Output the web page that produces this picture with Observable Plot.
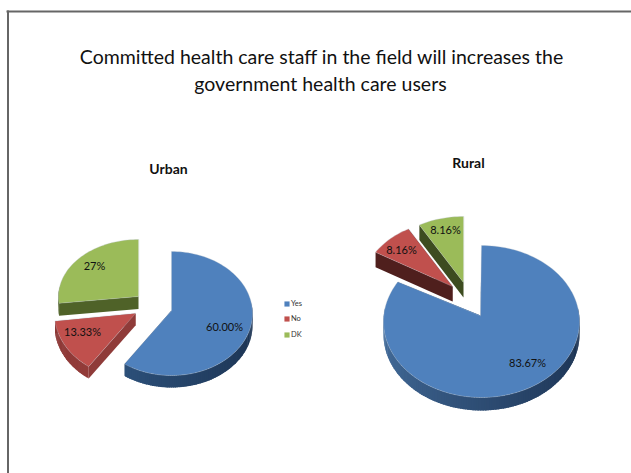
<!DOCTYPE html>
<html>
<head>
<meta charset="utf-8">
<script src="https://cdn.jsdelivr.net/npm/d3@7"></script>
<script src="https://cdn.jsdelivr.net/npm/@observablehq/plot@0.6"></script>
<style>
  html, body { margin: 0; padding: 0; background: #fff; }
  svg { display: block; }
</style>
</head>
<body>
<div id="chart"></div>
<script>
// Survey answers, in percent
const categories = ["Yes", "No", "DK"];
const urbanValues = [60.0, 13.33, 27];
const ruralValues = [83.67, 8.16, 8.16];
const urbanLabels = ["60.00%", "13.33%", "27%"];
const ruralLabels = ["83.67%", "8.16%", "8.16%"];
const titleLines = [
  "Committed health care staff in the field will increases the",
  "government health care users"
];
const categoryColors = ["#4f81bd", "#c0504d", "#9bbb59"];

// Where each exploded wedge sits on the page, and its pseudo-3D shading.
// ax/ay: wedge tip, cx/cy: ellipse centre, a/b: ellipse radii, depth: extrusion.
const urbanLayout = [
  {ax: 171, ay: 310, cx: 171, cy: 313, a: 81, b: 62, depth: 12, cut: "#24436a", wall: ["#1c3352", "#35608f"], lx: 224, ly: 327},
  {ax: 135, ay: 313, cx: 135, cy: 313, a: 81, b: 65, depth: 12, cut: "#8f3b39", wall: ["#a34341", "#8a3735"], lx: 82, ly: 332},
  {ax: 138, ay: 296, cx: 138, cy: 296, a: 80, b: 57, depth: 12.5, cut: "#4f6228", wall: ["#4f6228", "#4f6228"], lx: 94, ly: 266}
];
const ruralLayout = [
  {ax: 480, ay: 315, cx: 481, cy: 321, a: 98, b: 76, depth: 13, cut: "#24436a", wall: ["#1b3252", "#46709f"], lx: 527, ly: 363},
  {ax: 452, ay: 286, cx: 452, cy: 286, a: 90, b: 66, depth: 15, cut: "#4f1f1d", wall: ["#4f1f1d", "#4f1f1d"], lx: 401, ly: 250},
  {ax: 463, ay: 282, cx: 463, cy: 282, a: 90, b: 66, depth: 15, cut: "#3d4c20", wall: ["#3d4c20", "#3d4c20"], lx: 445, ly: 230}
];
const urbanOrder = [0, 2, 1];
const ruralOrder = [0, 1, 2];

const font = "Lato, 'Liberation Sans', sans-serif";
const rad = Math.PI / 180;

// Turn one pie's values into wedges with start and end angles (clockwise from north).
function wedges(values, labels, layout) {
  const total = d3.sum(values);
  let angle = 0;
  return values.map((value, i) => {
    const start = angle;
    angle += (value / total) * 360;
    return {category: categories[i], value, label: labels[i], start, end: angle, ...layout[i]};
  });
}

function rim(w, deg) {
  return {x: w.cx + w.a * Math.sin(deg * rad), y: w.cy - w.b * Math.cos(deg * rad)};
}

function arcAngles(start, end, step) {
  const n = Math.max(1, Math.ceil((end - start) / step));
  return d3.range(n + 1).map(i => start + ((end - start) * i) / n);
}

// Top face as one closed outline.
function topFace(w) {
  const pts = [{x: w.ax, y: w.ay}, ...arcAngles(w.start, w.end, 2).map(t => rim(w, t))];
  return pts.map(p => ({...p, category: w.category}));
}

// Side walls: the two cut faces and the outer rim, extruded downward.
// Rim strips overlap the next one so the shading runs without seams.
function sideFaces(w) {
  const rows = [];
  let id = 0;
  const push = (pts, shade) => {
    id++;
    for (const p of pts) rows.push({...p, id, shade});
  };
  for (const t of [w.start, w.end]) {
    const e = rim(w, t);
    push([
      {x: w.ax, y: w.ay},
      e,
      {x: e.x, y: e.y + w.depth},
      {x: w.ax, y: w.ay + w.depth}
    ], w.cut);
  }
  const from = Math.max(w.start, 80);
  const to = Math.min(w.end, 280);
  if (to > from) {
    const mix = d3.interpolateRgb(w.wall[0], w.wall[1]);
    const ticks = arcAngles(from, to, 1.5);
    for (let i = 0; i < ticks.length - 1; i++) {
      const p = rim(w, ticks[i]);
      const q = rim(w, Math.min(ticks[i + 1] + 1, to));
      const t = Math.max(0, (ticks[i] - 90) / 180);
      push([
        p, q,
        {x: q.x, y: q.y + w.depth},
        {x: p.x, y: p.y + w.depth}
      ], mix(Math.pow(t, 1.2)));
    }
  }
  return rows;
}

function pieMarks(values, labels, layout, order) {
  const all = wedges(values, labels, layout);
  const marks = [];
  for (const i of order) {
    const w = all[i];
    marks.push(Plot.line(sideFaces(w), {
      x: "x", y: "y", z: "id",
      fill: {value: "shade", scale: null},
      stroke: "none",
      curve: "linear-closed"
    }));
    marks.push(Plot.line(topFace(w), {
      x: "x", y: "y",
      fill: "category",
      stroke: "#b8c0c8",
      strokeOpacity: 0.4,
      strokeWidth: 0.8,
      curve: "linear-closed"
    }));
  }
  marks.push(Plot.text(all, {
    x: "lx", y: "ly",
    text: "label",
    fill: "#111",
    fontSize: 11,
    fontFamily: font
  }));
  return marks;
}

const legendRows = categories.map((category, i) => ({category, y: [303.5, 318.5, 334.5][i]}));

const chart = Plot.plot({
  width: 631,
  height: 473,
  margin: 0,
  x: {domain: [0, 631], range: [0, 631], axis: null},
  y: {domain: [0, 473], range: [0, 473], axis: null},
  color: {domain: categories, range: categoryColors},
  style: {background: "#fff", fontFamily: font},
  marks: [
    // Slide frame: left and top edges only
    Plot.ruleX([7.5], {y1: 10.5, y2: 473, stroke: "#666", strokeWidth: 2}),
    Plot.ruleY([11], {x1: 6.5, x2: 631, stroke: "#666", strokeWidth: 2}),
    Plot.text(titleLines, {
      x: (d, i) => [321, 320][i],
      y: (d, i) => [57, 84][i],
      text: d => d,
      fontSize: 19.5,
      fontFamily: font,
      fill: "#111"
    }),
    Plot.text(["Urban", "Rural"], {
      x: (d, i) => [168, 468][i],
      y: (d, i) => [169, 163][i],
      text: d => d,
      fontSize: 14,
      fontWeight: "bold",
      fontFamily: font,
      fill: "#111"
    }),
    ...pieMarks(urbanValues, urbanLabels, urbanLayout, urbanOrder),
    ...pieMarks(ruralValues, ruralLabels, ruralLayout, ruralOrder),
    Plot.dot(legendRows, {x: () => 286.5, y: "y", symbol: "square", r: 2.9, fill: "category", stroke: "none"}),
    Plot.text(legendRows, {
      x: () => 290.5, y: "y",
      text: "category",
      textAnchor: "start",
      fontSize: 7.5,
      fontFamily: font,
      fill: "#333"
    })
  ]
});
document.getElementById("chart").append(chart);
</script>
</body>
</html>
